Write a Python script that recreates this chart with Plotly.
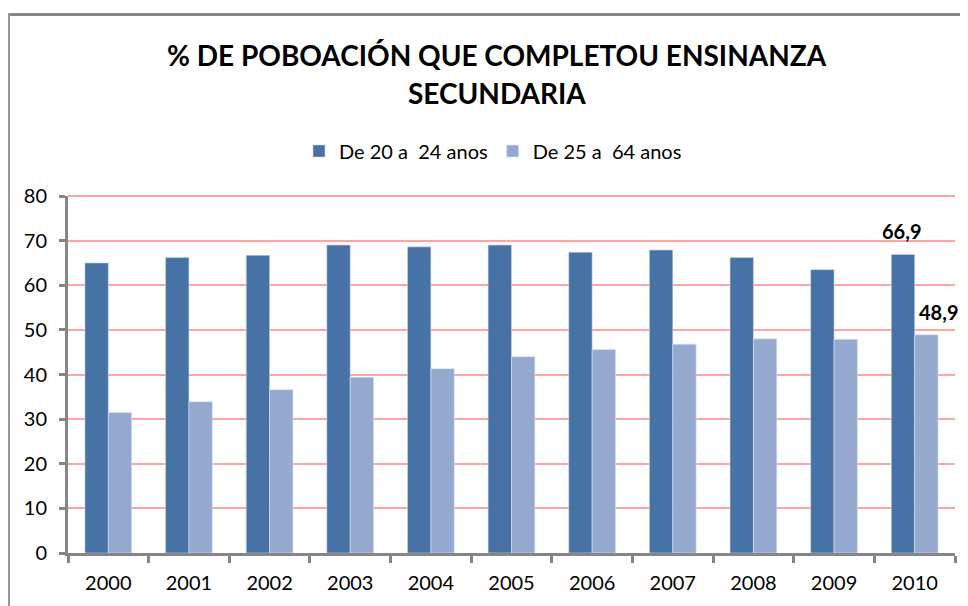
import plotly.graph_objects as go

years = ["2000", "2001", "2002", "2003", "2004", "2005", "2006", "2007", "2008", "2009", "2010"]
serie_20_24 = [65.0, 66.2, 66.7, 69.0, 68.6, 69.0, 67.4, 67.9, 66.2, 63.5, 66.9]
serie_25_64 = [31.5, 33.9, 36.6, 39.4, 41.3, 44.0, 45.6, 46.8, 48.0, 47.9, 48.9]
name_20_24 = "De 20 a  24 anos"
name_25_64 = "De 25 a  64 anos"
title_lines = ["% DE POBOACIÓN QUE COMPLETOU ENSINANZA", "SECUNDARIA"]
y_ticks = [0, 10, 20, 30, 40, 50, 60, 70, 80]

# the page body adds an 8px offset; figure coordinates below are page coordinates minus 8
OFF = 8
W, H = 968, 606
ML, MT = 68 - OFF, 196 - OFF
MR = W - (955 - OFF)
MB = H - (553 - OFF)
pw = W - ML - MR
ph = H - MT - MB

def px_x(x):
    return (x - OFF - ML) / pw

def px_y(y):
    return (H - MB - (y - OFF)) / ph

fig = go.Figure()
fig.add_trace(go.Bar(x=years, y=serie_20_24, name=name_20_24,
                     marker=dict(color="#4672A6", line=dict(color="#C9D6EA", width=0.6))))
fig.add_trace(go.Bar(x=years, y=serie_25_64, name=name_25_64,
                     marker=dict(color="#95A9CF", line=dict(color="#DCE4F2", width=0.6))))

last = len(years) - 1  # category index of the last year
fig.add_annotation(x=last, y=serie_20_24[-1], text="<b>66,9</b>", showarrow=False,
                   xshift=-13, yshift=23, font=dict(family="Lato", size=20, color="#000"))
fig.add_annotation(x=last, y=serie_25_64[-1], text="<b>48,9</b>", showarrow=False,
                   xshift=24, yshift=23, font=dict(family="Lato", size=20, color="#000"))

# title, two lines
for line, ypx in zip(title_lines, [55, 93]):
    fig.add_annotation(xref="paper", yref="paper", x=px_x(497), y=px_y(ypx),
                       xanchor="center", yanchor="middle", showarrow=False,
                       text="<b>" + line + "</b>",
                       font=dict(family="Lato", size=28, color="#000"))

# top gridline (upper edge of the plot area)
fig.add_shape(type="line", xref="paper", yref="paper", x0=0, x1=1, y0=1, y1=1,
              line=dict(color="#FFA3A3", width=2), layer="above")

# chart border (top and left visible)
fig.add_shape(type="line", xref="paper", yref="paper",
              x0=px_x(7), x1=px_x(990), y0=px_y(14.5), y1=px_y(14.5),
              line=dict(color="#878787", width=3))
fig.add_shape(type="line", xref="paper", yref="paper",
              x0=px_x(8.5), x1=px_x(8.5), y0=px_y(13), y1=px_y(640),
              line=dict(color="#9A9A9A", width=3))

fig.update_layout(
    width=W, height=H,
    margin=dict(l=ML, r=MR, t=MT, b=MB),
    paper_bgcolor="white", plot_bgcolor="white",
    barmode="group", bargap=0.42, bargroupgap=0,
    legend=dict(orientation="h", x=(493 - OFF) / W, xanchor="center",
                y=1 - (151 - OFF) / H, yanchor="middle",
                xref="container", yref="container",
                font=dict(family="Lato", size=20, color="#000"),
                itemwidth=30, tracegroupgap=0),
    font=dict(family="Lato", size=20, color="#000"),
    showlegend=True,
)
fig.update_xaxes(type="category", range=[-0.5, len(years) - 0.5],
                 showline=True, linecolor="#868686", linewidth=3,
                 ticks="outside", tickson="boundaries", ticklen=7, tickwidth=3, tickcolor="#868686",
                 ticklabelstandoff=10,
                 tickfont=dict(family="Lato", size=20, color="#000"), showgrid=False)
fig.update_yaxes(range=[0, 80], tickvals=y_ticks,
                 showline=True, linecolor="#868686", linewidth=3,
                 ticks="outside", ticklen=6, tickwidth=3, tickcolor="#868686",
                 ticklabelstandoff=8,
                 showgrid=True, gridcolor="#FFA3A3", gridwidth=2, zeroline=False,
                 tickfont=dict(family="Lato", size=20, color="#000"))

fig.write_html("out.html")
